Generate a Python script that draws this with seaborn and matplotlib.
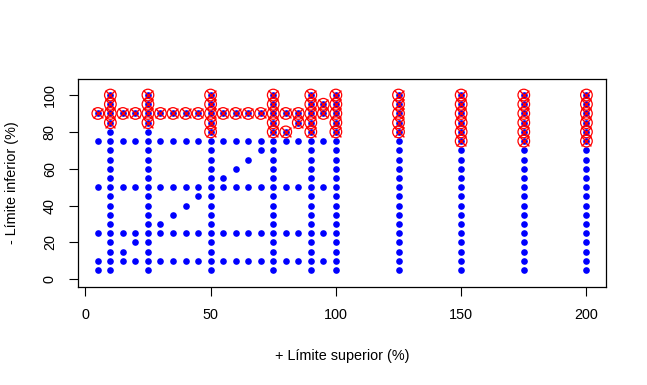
import seaborn as sns
import pandas as pd
import matplotlib.pyplot as plt

# limite superior (x) -> limites inferiores tested (y)
full = [5, 10, 15, 20, 25, 30, 35, 40, 45, 50, 55, 60, 65, 70, 75, 80, 85, 90, 95, 100]
tested = {
    5: [5, 10, 25, 50, 75, 90],
    10: full,
    15: [10, 15, 25, 50, 75, 90],
    20: [10, 20, 25, 50, 75, 90],
    25: full,
    30: [10, 25, 30, 50, 75, 90],
    35: [10, 25, 35, 50, 75, 90],
    40: [10, 25, 40, 50, 75, 90],
    45: [10, 25, 45, 50, 75, 90],
    50: full,
    55: [10, 25, 50, 55, 75, 90],
    60: [10, 25, 50, 60, 75, 90],
    65: [10, 25, 50, 65, 75, 90],
    70: [10, 25, 50, 70, 75, 90],
    75: full,
    80: [10, 25, 50, 75, 80, 90],
    85: [10, 25, 50, 75, 85, 90],
    90: full,
    95: [10, 25, 50, 75, 90, 95],
    100: full,
    125: full,
    150: full,
    175: full,
    200: full,
}
# highlighted combinations (red)
best = {
    5: [90],
    10: [85, 90, 95, 100],
    15: [90], 20: [90],
    25: [85, 90, 95, 100],
    30: [90], 35: [90], 40: [90], 45: [90],
    50: [80, 85, 90, 95, 100],
    55: [90], 60: [90], 65: [90], 70: [90],
    75: [80, 85, 90, 95, 100],
    80: [80, 90],
    85: [85, 90],
    90: [80, 85, 90, 95, 100],
    95: [90, 95],
    100: [80, 85, 90, 95, 100],
    125: [80, 85, 90, 95, 100],
    150: [75, 80, 85, 90, 95, 100],
    175: [75, 80, 85, 90, 95, 100],
    200: [75, 80, 85, 90, 95, 100],
}

blue = pd.DataFrame([(x, y) for x, ys in tested.items() for y in ys], columns=["sup", "inf"])
red = pd.DataFrame([(x, y) for x, ys in best.items() for y in ys], columns=["sup", "inf"])

sns.set_style("ticks")
plt.rcParams["font.family"] = ["Liberation Sans", "DejaVu Sans"]
plt.rcParams["text.color"] = "black"
plt.rcParams["axes.labelcolor"] = "black"
plt.rcParams["xtick.color"] = "black"
plt.rcParams["ytick.color"] = "black"

fig = plt.figure(figsize=(6.47, 3.85), dpi=100)
ax = fig.add_axes([0.121, 0.2553, 0.8156, 0.5395])

sns.scatterplot(data=blue, x="sup", y="inf", color="blue", s=23, linewidth=0, ax=ax, zorder=2)
sns.scatterplot(data=red, x="sup", y="inf", marker="o", s=70, facecolors="none",
                edgecolor="red", linewidth=0.9, ax=ax, zorder=3)
sns.scatterplot(data=red, x="sup", y="inf", marker="x", color="red", edgecolor="red",
                s=50, linewidth=1.0, ax=ax, zorder=4)

ax.set_xlim(-2.8, 207.8)
ax.set_ylim(-4.0, 108.7)
ax.set_xticks([0, 50, 100, 150, 200])
ax.set_yticks([0, 20, 40, 60, 80, 100])
ax.tick_params(axis="both", direction="out", length=6.5, width=0.8, color="black",
               labelcolor="black", labelsize=10.4, pad=9)
for lab in ax.get_yticklabels():
    lab.set_rotation(90)
    lab.set_va("center")
for sp in ax.spines.values():
    sp.set_color("black")
    sp.set_linewidth(0.9)

ax.set_xlabel("+ Límite superior (%)", fontsize=10.4, labelpad=19, color="black")
ax.set_ylabel("- Límite inferior (%)", fontsize=10.4, labelpad=17, color="black")

fig.savefig("out.png", dpi=100, facecolor="white")
